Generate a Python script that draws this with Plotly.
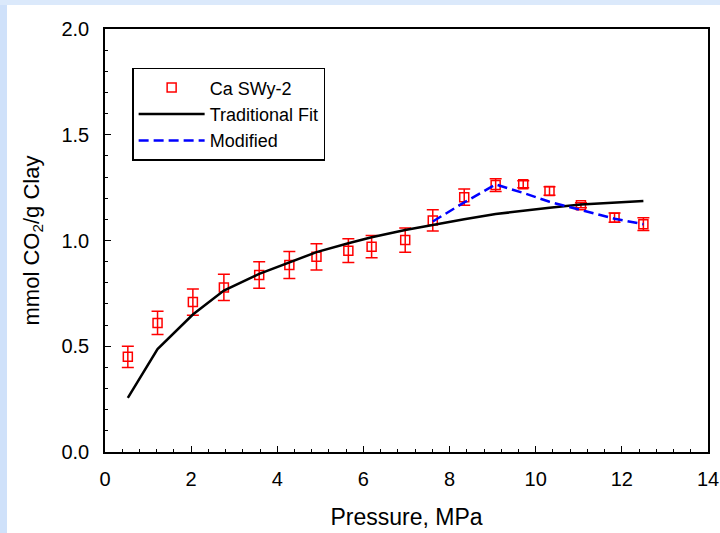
import plotly.graph_objects as go

# Data
pressure = [0.53, 1.22, 2.04, 2.76, 3.58, 4.28, 4.91, 5.65, 6.19, 6.97,
            7.61, 8.34, 9.07, 9.71, 10.32, 11.05, 11.83, 12.50]
uptake = [0.450, 0.610, 0.709, 0.778, 0.837, 0.884, 0.923, 0.952, 0.971, 1.002,
          1.095, 1.205, 1.262, 1.266, 1.234, 1.167, 1.108, 1.077]
uptake_err = [0.050, 0.055, 0.062, 0.062, 0.063, 0.064, 0.062, 0.056, 0.053, 0.057,
              0.050, 0.038, 0.030, 0.017, 0.020, 0.012, 0.022, 0.030]
trad_fit = [0.256, 0.487, 0.650, 0.763, 0.842, 0.895, 0.945, 0.987, 1.015, 1.050,
            1.075, 1.100, 1.125, 1.142, 1.155, 1.170, 1.180, 1.187]
mod_pressure = [7.61, 8.34, 9.07, 9.71, 10.32, 11.05, 11.83, 12.50]
mod_fit = [1.090, 1.180, 1.265, 1.225, 1.183, 1.145, 1.103, 1.077]

x_ticks = [0, 2, 4, 6, 8, 10, 12, 14]
y_ticks = [0.0, 0.5, 1.0, 1.5, 2.0]

FONT = "Liberation Sans, Arial, sans-serif"

fig = go.Figure()

fig.add_trace(go.Scatter(
    x=pressure, y=uptake, mode="markers", name="Ca SWy-2",
    marker=dict(symbol="square-open", size=9, color="#ff0000",
                line=dict(width=1.5, color="#ff0000")),
    error_y=dict(type="data", array=uptake_err, visible=True,
                 color="#ff0000", thickness=1.5, width=6),
))
fig.add_trace(go.Scatter(
    x=pressure, y=trad_fit, mode="lines", name="Traditional Fit",
    line=dict(color="black", width=2.5),
))
fig.add_trace(go.Scatter(
    x=mod_pressure, y=mod_fit, mode="lines", name="Modified",
    line=dict(color="#0000ff", width=2.5, dash="10px,5px"),
))

axis_common = dict(
    showline=True, linecolor="black", linewidth=1.5, mirror=True,
    showgrid=False, zeroline=False, ticks="inside", ticklen=6,
    tickwidth=1.2, tickcolor="black", automargin=False,
    tickfont=dict(family=FONT, size=20, color="black"),
)

fig.update_xaxes(
    range=[0, 14], tickvals=x_ticks, ticktext=[str(v) for v in x_ticks],
    minor=dict(ticks="inside", dtick=0.4, ticklen=3.5, tickwidth=1.2, tickcolor="black"),
    title=dict(text="Pressure, MPa", font=dict(family=FONT, size=23, color="black"),
               standoff=20),
    ticklabelstandoff=8,
    **axis_common,
)
fig.update_yaxes(
    range=[0, 2.0], tickvals=y_ticks, ticktext=[f"{v:.1f}" for v in y_ticks],
    minor=dict(ticks="inside", dtick=0.1, ticklen=3.5, tickwidth=1.2, tickcolor="black"),
    title=dict(text="mmol CO<sub>2</sub>/g Clay",
               font=dict(family=FONT, size=22, color="black"), standoff=16),
    ticklabelstandoff=10,
    **axis_common,
)

fig.update_layout(
    width=720, height=533,
    margin=dict(l=105, r=12, t=29, b=81),
    paper_bgcolor="white", plot_bgcolor="white",
    showlegend=True,
    legend=dict(
        x=0.045, y=0.908, xanchor="left", yanchor="top",
        bordercolor="black", borderwidth=1.5, bgcolor="white",
        font=dict(family=FONT, size=18, color="black"),
        itemwidth=66, tracegroupgap=0,
    ),
    shapes=[
        dict(type="rect", xref="paper", yref="paper", layer="below",
             x0=-105 / 603, x1=-98 / 603, y0=-81 / 423, y1=1 + 29 / 423,
             fillcolor="#cfe1fa", line=dict(width=0)),
        dict(type="rect", xref="paper", yref="paper", layer="below",
             x0=-105 / 603, x1=1 + 12 / 603, y0=1 + 24 / 423, y1=1 + 29 / 423,
             fillcolor="#dbe9fb", line=dict(width=0)),
    ],
)

fig.write_html("out.html")
